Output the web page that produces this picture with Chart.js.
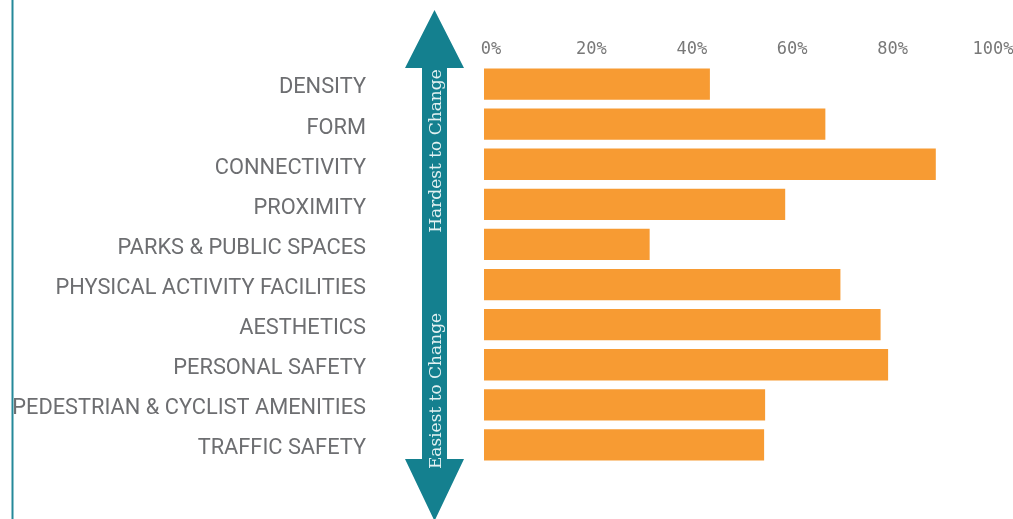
<!DOCTYPE html>
<html><head><meta charset="utf-8">
<script src="https://cdn.jsdelivr.net/npm/chart.js@4/dist/chart.umd.min.js"></script>
<style>html,body{margin:0;padding:0;background:#fff;overflow:hidden}#wrap{width:1013px;height:519px;position:relative}</style>
</head><body><div id="wrap"><canvas id="c"></canvas></div>
<script>
const categories = ['DENSITY','FORM','CONNECTIVITY','PROXIMITY','PARKS & PUBLIC SPACES','PHYSICAL ACTIVITY FACILITIES','AESTHETICS','PERSONAL SAFETY','PEDESTRIAN & CYCLIST AMENITIES','TRAFFIC SAFETY'];
const shares = [45, 68, 90, 60, 33, 71, 79, 80.5, 56, 55.8];
const tickValues = [0, 20, 40, 60, 80, 100];
const arrowLabels = ['Hardest to Change', 'Easiest to Change'];

const TEAL = '#14808f';

const decor = {
  id: 'decor',
  afterDraw(chart) {
    const ctx = chart.ctx;
    ctx.save();
    // left border line
    ctx.strokeStyle = '#25899a';
    ctx.lineWidth = 2;
    ctx.beginPath(); ctx.moveTo(12.5, 0); ctx.lineTo(12.5, 519); ctx.stroke();
    // double-headed arrow
    const cx = 434.5, hw = 29.5, sw = 12.5;
    ctx.fillStyle = TEAL;
    ctx.beginPath();
    ctx.moveTo(cx, 10);
    ctx.lineTo(cx + hw, 68);
    ctx.lineTo(cx + sw, 68);
    ctx.lineTo(cx + sw, 459);
    ctx.lineTo(cx + hw, 459);
    ctx.lineTo(cx, 521);
    ctx.lineTo(cx - hw, 459);
    ctx.lineTo(cx - sw, 459);
    ctx.lineTo(cx - sw, 68);
    ctx.lineTo(cx - hw, 68);
    ctx.closePath();
    ctx.fill();
    // arrow texts
    ctx.fillStyle = '#e3f1f2';
    ctx.font = '17px "DejaVu Serif", serif';
    ctx.textAlign = 'center';
    ctx.textBaseline = 'alphabetic';
    const pos = [151, 391];
    arrowLabels.forEach((t, i) => {
      ctx.save();
      ctx.translate(440.5, pos[i]);
      ctx.rotate(-Math.PI / 2);
      ctx.fillText(t, 0, 0);
      ctx.restore();
    });
    ctx.restore();
  }
};

new Chart(document.getElementById('c'), {
  type: 'bar',
  data: {
    labels: categories,
    datasets: [{
      data: shares,
      backgroundColor: '#f79b33',
      borderWidth: 0,
      barPercentage: 0.78,
      categoryPercentage: 1
    }]
  },
  options: {
    indexAxis: 'y',
    responsive: true,
    maintainAspectRatio: false,
    animation: false,
    layout: { padding: { top: 0, left: 0, right: 27, bottom: 54 } },
    plugins: { legend: { display: false }, tooltip: { enabled: false } },
    scales: {
      x: {
        position: 'top',
        min: 0, max: 100,
        afterBuildTicks: s => { s.ticks = tickValues.map(v => ({ value: v })); },
        afterFit: s => { s.height = 64; s.paddingLeft = 0; s.paddingRight = 0; },
        grid: { display: false, drawTicks: false },
        border: { display: false },
        ticks: {
          padding: 4,
          labelOffset: 7,
          color: '#787878',
          font: { family: '"DejaVu Sans Mono", monospace', size: 17 },
          callback: v => v + '%'
        }
      },
      y: {
        afterFit: s => { s.width = 484; s.paddingTop = 0; s.paddingBottom = 0; },
        grid: { display: false, drawTicks: false },
        border: { display: false },
        ticks: {
          padding: 118,
          labelOffset: 4,
          color: '#6d6e71',
          font: { family: 'Roboto, sans-serif', size: 21.8 }
        }
      }
    }
  },
  plugins: [decor]
});
</script></body></html>
